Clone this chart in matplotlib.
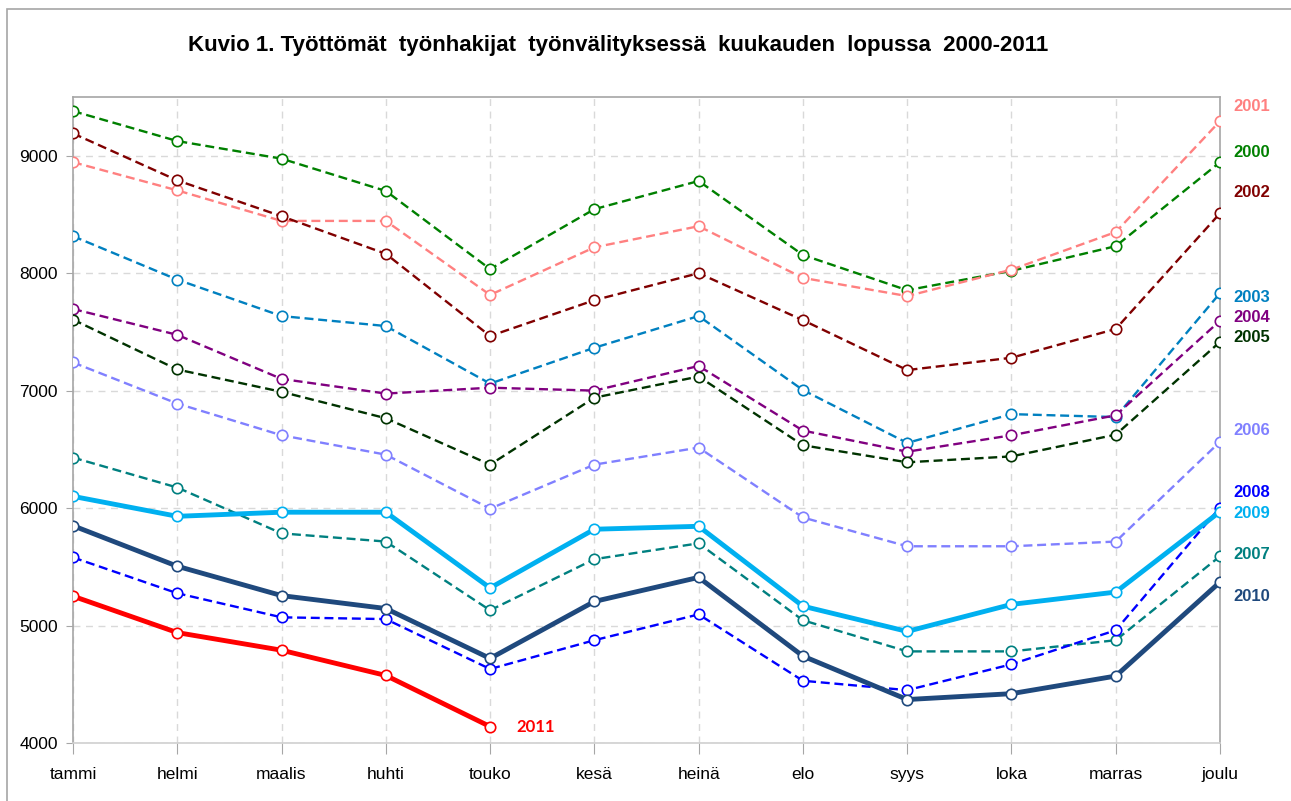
import matplotlib.pyplot as plt
from matplotlib.patches import Rectangle

months = ['tammi', 'helmi', 'maalis', 'huhti', 'touko', 'kesä',
          'heinä', 'elo', 'syys', 'loka', 'marras', 'joulu']

y2000 = [9380, 9125, 8975, 8700, 8035, 8545, 8785, 8155, 7855, 8020, 8230, 8945]
y2001 = [8945, 8705, 8445, 8445, 7815, 8220, 8400, 7960, 7805, 8030, 8350, 9295]
y2002 = [9190, 8790, 8485, 8165, 7465, 7770, 8000, 7600, 7175, 7280, 7525, 8510]
y2003 = [8315, 7945, 7635, 7550, 7060, 7365, 7635, 7005, 6555, 6800, 6775, 7830]
y2004 = [7695, 7475, 7100, 6975, 7025, 7000, 7210, 6660, 6480, 6620, 6790, 7595]
y2005 = [7605, 7180, 6990, 6765, 6370, 6940, 7120, 6535, 6390, 6440, 6625, 7415]
y2006 = [7240, 6890, 6620, 6455, 5995, 6370, 6515, 5920, 5675, 5675, 5715, 6565]
y2007 = [6430, 6175, 5785, 5715, 5130, 5565, 5700, 5045, 4780, 4780, 4875, 5590]
y2008 = [5580, 5275, 5070, 5055, 4630, 4875, 5095, 4530, 4450, 4670, 4960, 6005]
y2009 = [6100, 5930, 5965, 5965, 5320, 5820, 5845, 5165, 4950, 5180, 5285, 5970]
y2010 = [5850, 5505, 5255, 5145, 4720, 5205, 5410, 4740, 4370, 4420, 4570, 5370]
y2011 = [5250, 4940, 4790, 4575, 4140]

series = [
    ('2000', y2000, '#008000', 'dash'),
    ('2001', y2001, '#FF8080', 'dash'),
    ('2002', y2002, '#800000', 'dash'),
    ('2003', y2003, '#0080C0', 'dash'),
    ('2004', y2004, '#800080', 'dash'),
    ('2005', y2005, '#003300', 'dash'),
    ('2006', y2006, '#8080FF', 'dash'),
    ('2007', y2007, '#008080', 'dash'),
    ('2008', y2008, '#0000FF', 'dash'),
    ('2009', y2009, '#00B0F0', 'solid'),
    ('2010', y2010, '#1F497D', 'solid'),
]

# where the year labels sit at the right edge (data units)
label_y = {'2001': 9417, '2000': 9026, '2002': 8685, '2003': 7790, '2004': 7620,
           '2005': 7450, '2006': 6658, '2008': 6129, '2009': 5951, '2007': 5601,
           '2010': 5244}

plt.rcParams['font.family'] = ['Liberation Sans', 'DejaVu Sans']

fig = plt.figure(figsize=(12.91, 8.01), dpi=100)
ax = fig.add_axes([73 / 1291, 1 - 743 / 801, (1220 - 73) / 1291, (743 - 97) / 801])

x = list(range(len(months)))
for name, vals, col, style in series:
    if style == 'dash':
        ax.plot(x[:len(vals)], vals, color=col, lw=1.7, dashes=(3.8, 2.0),
                marker='o', ms=7.5, mfc='white', mec=col, mew=1.2, zorder=3)
    else:
        ax.plot(x[:len(vals)], vals, color=col, lw=3.5,
                marker='o', ms=7.5, mfc='white', mec=col, mew=1.2, zorder=4)
    ax.text(11.13, label_y[name], name, color=col, fontsize=12, fontweight='bold',
            va='center', ha='left', clip_on=False)

ax.plot(x[:len(y2011)], y2011, color='#FF0000', lw=3.5,
        marker='o', ms=7.5, mfc='white', mec='#FF0000', mew=1.2, zorder=5)
ax.annotate('2011', (x[len(y2011) - 1], y2011[-1]), xytext=(19, 0),
            textcoords='offset points', color='#FF0000', fontsize=12,
            fontweight='bold', family='Lato', va='center', ha='left')

ax.set_xlim(0, 11)
ax.set_ylim(4000, 9500)
ax.set_yticks([4000, 5000, 6000, 7000, 8000, 9000])
ax.set_xticks(x)
ax.set_xticklabels(months)
ax.tick_params(axis='both', labelsize=12.5, colors='#A6A6A6', labelcolor='black')
ax.tick_params(axis='x', length=8, pad=9)
ax.tick_params(axis='y', length=5, pad=6)
ax.grid(True, color='#D9D9D9', linestyle=(0, (5, 4)), lw=1)
ax.set_axisbelow(True)
for s in ax.spines.values():
    s.set_color('#A6A6A6')
    s.set_linewidth(1.2)
ax.spines['bottom'].set_color('#D0D0D0')

fig.text(0.479, 1 - 45 / 801, 'Kuvio 1. Työttömät  työnhakijat  työnvälityksessä  kuukauden  lopussa  2000-2011',
         ha='center', va='center', fontsize=16, fontweight='bold')

fig.patches.append(Rectangle((7 / 1291, -0.05), 1.2, 1.05 - 9 / 801, fill=False,
                             edgecolor='#A6A6A6', lw=1.2, transform=fig.transFigure))

fig.savefig('out.png', dpi=100)
